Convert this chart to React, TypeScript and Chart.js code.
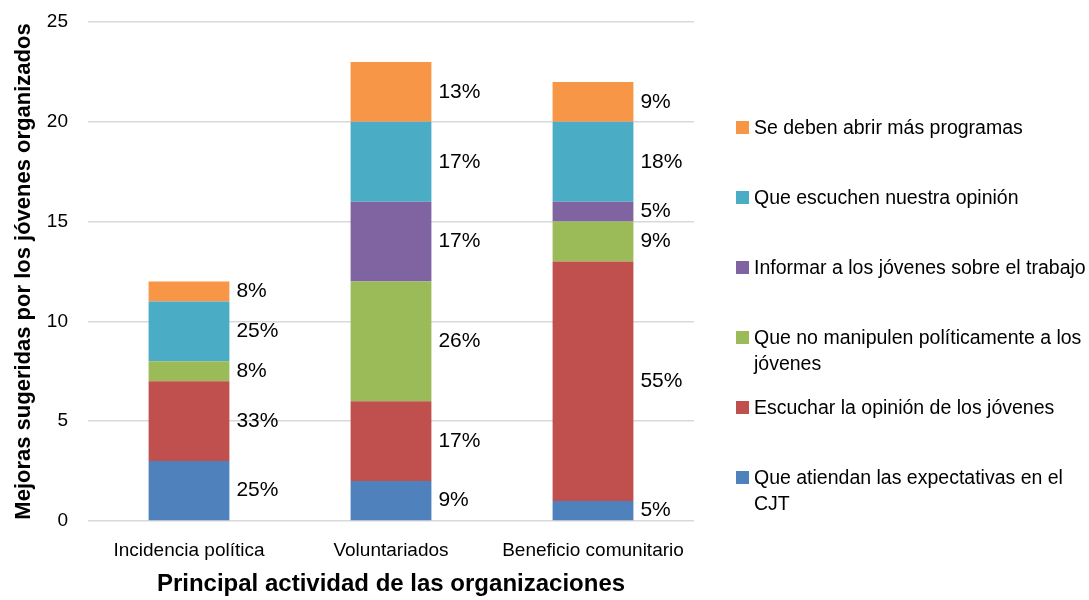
import React, { useEffect, useRef } from "react";
import { Chart, registerables } from "chart.js";

Chart.register(...registerables);

const categories = ["Incidencia política", "Voluntariados", "Beneficio comunitario"];
const seriesNames = [
  "Que atiendan las expectativas en el\nCJT",
  "Escuchar la opinión de los jóvenes",
  "Que no manipulen políticamente a los\njóvenes",
  "Informar a los jóvenes sobre el trabajo",
  "Que escuchen nuestra opinión",
  "Se deben abrir más programas",
];
const atiendan = [3, 2, 1];
const escuchar = [4, 4, 12];
const noManipulen = [1, 6, 2];
const informar = [0, 4, 1];
const escuchenOpinion = [3, 4, 4];
const abrirProgramas = [1, 3, 2];
const seriesValues = [atiendan, escuchar, noManipulen, informar, escuchenOpinion, abrirProgramas];
const seriesColors = ["#4F81BD", "#C0504D", "#9BBB59", "#8064A2", "#4BACC6", "#F79646"];
const yTicks = [0, 5, 10, 15, 20, 25];

const FONT = "'Liberation Sans Narrow', 'Arial Narrow', 'Liberation Sans', Arial, sans-serif";

const totals = categories.map((_, i) => seriesValues.reduce((s, arr) => s + arr[i], 0));

const percentLabels = {
  id: "percentLabels",
  afterDatasetsDraw(chart: any) {
    const ctx = chart.ctx;
    ctx.save();
    ctx.font = `21px ${FONT}`;
    ctx.fillStyle = "#000";
    ctx.textAlign = "left";
    ctx.textBaseline = "middle";
    chart.data.datasets.forEach((ds: any, di: number) => {
      const meta = chart.getDatasetMeta(di);
      meta.data.forEach((bar: any, i: number) => {
        const v = ds.data[i];
        if (!v) return;
        const pct = Math.round((v / totals[i]) * 100);
        const p = bar.getProps(["x", "y", "base", "width"], true);
        ctx.fillText(`${pct}%`, p.x + p.width / 2 + 7, (p.y + p.base) / 2);
      });
    });
    ctx.restore();
  },
};

export default function App() {
  const ref = useRef<HTMLCanvasElement>(null);
  useEffect(() => {
    const chart = new Chart(ref.current!, {
      type: "bar",
      data: {
        labels: categories,
        datasets: seriesValues.map((vals, i) => ({
          label: seriesNames[i].replace("\n", " "),
          data: vals,
          backgroundColor: seriesColors[i],
          borderWidth: 0,
        })),
      },
      options: {
        animation: false,
        responsive: false,
        maintainAspectRatio: false,
        layout: { padding: { left: 0, right: 395, top: 22, bottom: 0 } },
        datasets: { bar: { categoryPercentage: 1, barPercentage: 0.4 } },
        plugins: { legend: { display: false }, tooltip: { enabled: false } },
        scales: {
          x: {
            stacked: true,
            afterFit: (scale: any) => {
              scale.height = 79;
              scale.paddingLeft = 0;
              scale.paddingRight = 0;
            },
            grid: { display: false },
            border: { display: false },
            ticks: { color: "#000", font: { family: FONT, size: 19 }, padding: 10 },
            title: {
              display: true,
              text: "Principal actividad de las organizaciones",
              color: "#000",
              font: { family: FONT, size: 24, weight: "bold" },
              padding: { top: 0, bottom: 1 },
            },
          },
          y: {
            stacked: true,
            min: 0,
            max: 25,
            afterFit: (scale: any) => {
              scale.width = 88;
              scale.paddingTop = 0;
              scale.paddingBottom = 0;
            },
            afterBuildTicks: (scale: any) => {
              scale.ticks = yTicks.map((v) => ({ value: v }));
            },
            grid: { color: "#D9D9D9", lineWidth: 1.5, drawTicks: false },
            border: { display: false },
            ticks: { color: "#000", font: { family: FONT, size: 19 }, padding: 20 },
            title: {
              display: true,
              text: "Mejoras sugeridas por los jóvenes organizados",
              color: "#000",
              font: { family: FONT, size: 22, weight: "bold" },
              padding: { top: 11, bottom: 0 },
            },
          },
        },
      },
      plugins: [percentLabels],
    });
    return () => chart.destroy();
  }, []);

  const legendOrder = [5, 4, 3, 2, 1, 0];
  return (
    <div style={{ position: "fixed", left: 0, top: 0, width: 1089, height: 600, background: "#fff" }}>
      <canvas ref={ref} width={1089} height={600} style={{ position: "absolute", left: 0, top: 0 }} />
      {legendOrder.map((si, k) => (
        <div
          key={si}
          style={{
            position: "absolute",
            left: 736,
            top: 114 + k * 70,
            display: "flex",
            alignItems: "flex-start",
            fontFamily: FONT,
            fontSize: 19.5,
            lineHeight: "26px",
            color: "#000",
            whiteSpace: "pre-line",
          }}
        >
          <span
            style={{
              display: "inline-block",
              width: 13,
              height: 13,
              background: seriesColors[si],
              marginTop: 7,
              marginRight: 5,
              flex: "none",
            }}
          />
          <span>{seriesNames[si]}</span>
        </div>
      ))}
    </div>
  );
}
